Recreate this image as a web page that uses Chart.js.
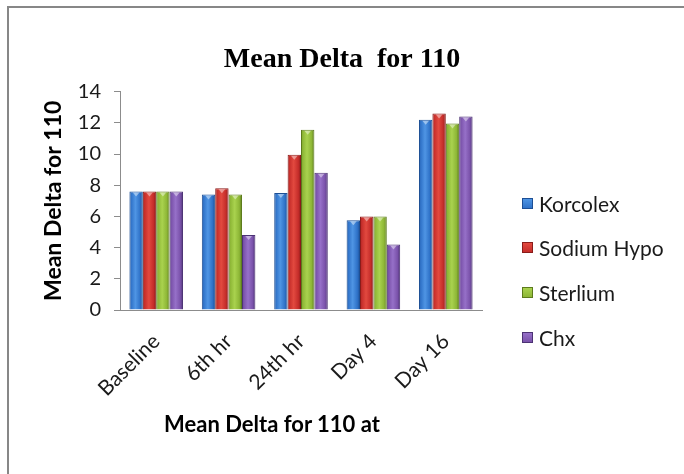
<!DOCTYPE html>
<html>
<head>
<meta charset="utf-8">
<script src="https://cdn.jsdelivr.net/npm/chart.js@4.4.1/dist/chart.umd.min.js"></script>
<style>
  html, body { margin: 0; padding: 0; background: #fff; width: 684px; height: 474px; overflow: hidden; }
  #frame { position: absolute; left: 7px; top: 6px; width: 740px; height: 540px; border: 2px solid #878787; box-sizing: border-box; }
  #wrap { position: absolute; left: 0; top: 0; width: 684px; height: 474px; }
  #legend { position: absolute; left: 0; top: 0; font-family: Lato, "Open Sans", sans-serif; font-size: 21px; color: #1a1a1a; }
  .item { position: absolute; left: 522px; height: 26px; display: flex; align-items: center; white-space: nowrap; }
  .sw { width: 11px; height: 11px; margin-right: 6px; box-sizing: border-box; }
  #xtitle { position: absolute; left: 272px; top: 423px; transform: translate(-50%, -50%); font-family: Lato, "Open Sans", sans-serif; font-weight: bold; font-size: 22px; color: #000; white-space: nowrap; }
</style>
</head>
<body>
<div id="frame"></div>
<div id="wrap"><canvas id="chart" width="684" height="474"></canvas></div>
<div id="legend"></div>
<div id="xtitle">Mean Delta for 110 at</div>
<script>
// Time points and treatment groups
const categories = ['Baseline', '6th hr', '24th hr', 'Day 4', 'Day 16'];
const seriesNames = ['Korcolex', 'Sodium Hypo', 'Sterlium', 'Chx'];

// Mean delta values per group
const korcolex   = [7.6, 7.4, 7.5, 5.75, 12.2];
const sodiumHypo = [7.6, 7.8, 9.95, 6.0, 12.6];
const sterlium   = [7.6, 7.4, 11.55, 6.0, 11.95];
const chx        = [7.6, 4.8, 8.8, 4.2, 12.4];

// y axis range
const yMin = 0, yMax = 14, yStep = 2;

// edge / body / highlight shades for each group
const shades = [
  ['#1d4f95', '#2f72c8', '#4f95e4'],
  ['#8a1c1a', '#c52d2a', '#e2493f'],
  ['#5c7b1c', '#8db636', '#a9d24e'],
  ['#4c3274', '#7a52aa', '#9670c8']
];

const CAT_PCT = 0.74;
const seriesValues = [korcolex, sodiumHypo, sterlium, chx];

function barFill(ctx) {
  const chart = ctx.chart;
  const s = shades[ctx.datasetIndex];
  const xs = chart.scales && chart.scales.x;
  if (!chart.chartArea || !xs || ctx.dataIndex === undefined) return s[1];
  const n = seriesValues.length;
  const bw = (xs.width / categories.length) * CAT_PCT / n;
  const cx = xs.getPixelForValue(ctx.dataIndex) + (ctx.datasetIndex - (n - 1) / 2) * bw;
  const g = chart.ctx.createLinearGradient(cx - bw / 2, 0, cx + bw / 2, 0);
  g.addColorStop(0, s[0]);
  g.addColorStop(0.12, s[1]);
  g.addColorStop(0.45, s[2]);
  g.addColorStop(0.8, s[1]);
  g.addColorStop(1, s[0]);
  return g;
}

// small bevel triangle at the top of each bar
const bevelTop = {
  id: 'bevelTop',
  afterDatasetsDraw(chart) {
    const c = chart.ctx;
    chart.data.datasets.forEach((ds, di) => {
      const meta = chart.getDatasetMeta(di);
      meta.data.forEach(el => {
        const w = el.width * 0.5;
        c.save();
        c.fillStyle = 'rgba(255,255,255,0.45)';
        c.beginPath();
        c.moveTo(el.x - w / 2, el.y + 1);
        c.lineTo(el.x + w / 2, el.y + 1);
        c.lineTo(el.x, el.y + 5);
        c.closePath();
        c.fill();
        c.restore();
      });
    });
  }
};

const labelFont = 'Lato, "Open Sans", sans-serif';

new Chart(document.getElementById('chart'), {
  type: 'bar',
  data: {
    labels: categories,
    datasets: seriesNames.map((name, i) => ({
      label: name,
      data: seriesValues[i],
      backgroundColor: barFill,
      borderColor: shades[i][0],
      borderWidth: { top: 1, left: 1, right: 1, bottom: 0 },
      categoryPercentage: CAT_PCT,
      barPercentage: 1
    }))
  },
  options: {
    responsive: false,
    animation: false,
    devicePixelRatio: 1,
    layout: { padding: 0 },
    plugins: {
      legend: { display: false },
      tooltip: { enabled: false },
      title: {
        display: true,
        text: 'Mean Delta  for 110',
        color: '#000',
        font: { family: '"Liberation Serif", "Times New Roman", serif', size: 28, weight: 'bold' },
        padding: { top: 43, bottom: 15 }
      }
    },
    scales: {
      x: {
        grid: { display: false, drawTicks: false },
        border: { display: true, color: '#8c8c8c', width: 1 },
        ticks: {
          color: '#1a1a1a',
          font: { family: labelFont, size: 21 },
          minRotation: 45,
          maxRotation: 45,
          padding: 19
        },
        afterFit(scale) { scale.height = 164; }
      },
      y: {
        min: yMin,
        max: yMax,
        ticks: {
          stepSize: yStep,
          color: '#1a1a1a',
          font: { family: labelFont, size: 20 },
          padding: 13
        },
        grid: { drawOnChartArea: false, drawTicks: true, tickLength: 6, color: '#8c8c8c' },
        border: { display: true, color: '#8c8c8c', width: 1 },
        title: {
          display: true,
          text: 'Mean Delta for 110',
          color: '#000',
          font: { family: labelFont, size: 23, weight: 'bold' },
          padding: { top: 40, bottom: 0 }
        },
        afterFit(scale) { scale.width = 120; }
      },
      // empty band on the right that holds the legend
      side: {
        position: 'right',
        grid: { display: false },
        border: { display: false },
        ticks: { display: false },
        afterFit(scale) { scale.width = 202; }
      }
    }
  },
  plugins: [bevelTop]
});

// legend entries to the right of the plot
const legendY = [203, 247, 292, 337];
const legend = document.getElementById('legend');
seriesNames.forEach((name, i) => {
  const item = document.createElement('div');
  item.className = 'item';
  item.style.top = (legendY[i] - 13) + 'px';
  const sw = document.createElement('span');
  sw.className = 'sw';
  sw.style.background = 'linear-gradient(to bottom, ' + shades[i][2] + ', ' + shades[i][1] + ')';
  sw.style.border = '1px solid ' + shades[i][0];
  const tx = document.createElement('span');
  tx.textContent = name;
  item.appendChild(sw);
  item.appendChild(tx);
  legend.appendChild(item);
});
</script>
</body>
</html>
